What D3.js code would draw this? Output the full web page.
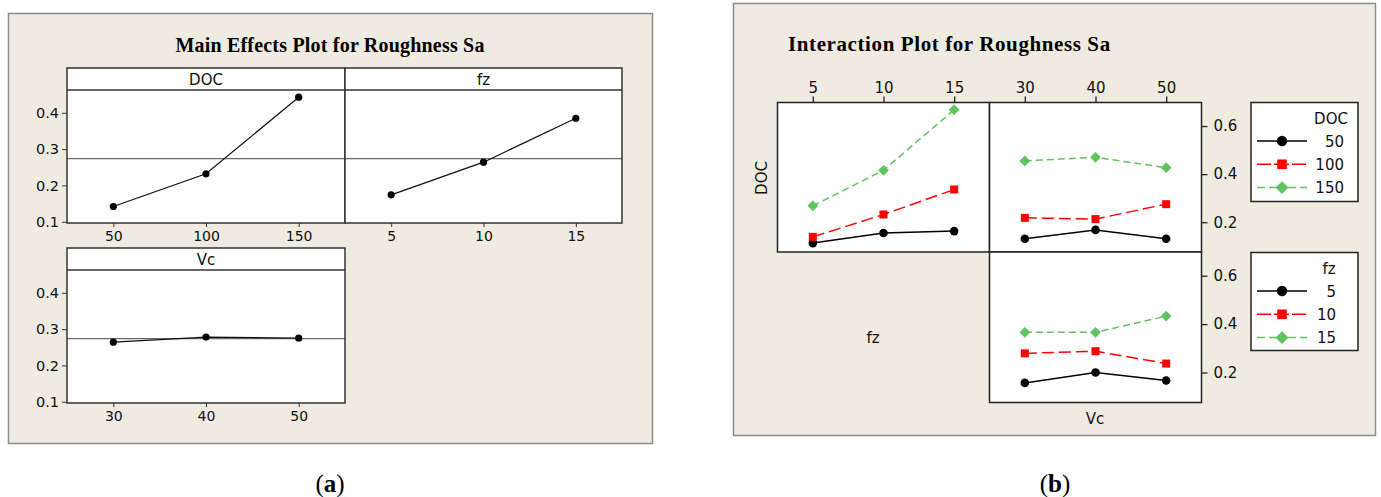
<!DOCTYPE html>
<html><head><meta charset="utf-8">
<script src="https://cdn.jsdelivr.net/npm/d3@7"></script>
<style>
body{margin:0;background:#fff;}
svg{display:block;}
text{font-family:"DejaVu Sans",Verdana,sans-serif;}
</style></head>
<body>
<svg id="c" width="1381" height="497"></svg>
<script>
// ---- data ----
const docLevels = [50, 100, 150];
const fzLevels = [5, 10, 15];
const vcLevels = [30, 40, 50];
const mainDOC = [0.142, 0.232, 0.443];
const mainFz = [0.174, 0.264, 0.385];
const mainVc = [0.264, 0.278, 0.275];
const grandMean = 0.274;
const mainYTicks = [0.1, 0.2, 0.3, 0.4];
const interYTicks = [0.2, 0.4, 0.6];
// interaction means: rows = level of legend factor, cols = x factor level
const docByFz = [[0.113, 0.155, 0.163], [0.139, 0.232, 0.336], [0.268, 0.416, 0.668]];
const docByVc = [[0.131, 0.168, 0.131], [0.218, 0.213, 0.275], [0.455, 0.470, 0.427]];
const fzByVc = [[0.157, 0.200, 0.167], [0.279, 0.288, 0.237], [0.366, 0.366, 0.433]];
const seriesColors = ["#000000", "#ff0000", "#5fc45f"];
const seriesDash = [null, "12,5", "7,4"];
const seriesShapes = ["circle", "square", "diamond"];

const svg = d3.select("#c");
const BG = "#efebe1";
const SERIF = "'Liberation Serif','Times New Roman',serif";

// ---------- (a) Main effects ----------
svg.append("rect").attr("x", 8.5).attr("y", 13.5).attr("width", 644).attr("height", 430)
  .attr("fill", BG).attr("stroke", "#8a8a8a").attr("stroke-width", 1.5);
svg.append("text").attr("x", 330).attr("y", 52).attr("text-anchor", "middle")
  .style("font-family", SERIF).style("font-weight", "bold")
  .style("font-size", "20px").style("letter-spacing", "0.2px").text("Main Effects Plot for Roughness Sa");

const mainY = d3.scaleLinear().domain([0.0965, 0.4628]);
function mainPanel(x0, x1, top, levels, values, xdom, name, showY) {
  const hdrB = top + 22, bot = top + 155;
  const x = d3.scaleLinear().domain(xdom).range([x0, x1]);
  const y = mainY.copy().range([bot, hdrB]);
  const g = svg.append("g");
  g.append("rect").attr("x", x0).attr("y", top).attr("width", x1 - x0).attr("height", bot - top)
    .attr("fill", "#fff");
  g.append("line").attr("x1", x0).attr("x2", x1).attr("y1", hdrB).attr("y2", hdrB)
    .attr("stroke", "#333").attr("stroke-width", 1.5);
  g.append("text").attr("x", (x0 + x1) / 2).attr("y", top + 17).attr("text-anchor", "middle")
    .style("font-size", "15px").attr("fill", "#111").text(name);
  // mean reference line
  g.append("line").attr("x1", x0).attr("x2", x1).attr("y1", y(grandMean)).attr("y2", y(grandMean))
    .attr("stroke", "#6a6a6a").attr("stroke-width", 1.2);
  const pts = levels.map((l, i) => [l, values[i]]);
  g.append("path").datum(pts).attr("fill", "none").attr("stroke", "#111").attr("stroke-width", 1.2)
    .attr("d", d3.line().x(d => x(d[0])).y(d => y(d[1])));
  g.selectAll("circle.p").data(pts).join("circle").attr("cx", d => x(d[0])).attr("cy", d => y(d[1]))
    .attr("r", 3.6).attr("fill", "#000");
  // x axis
  const xa = g.append("g").attr("transform", `translate(0,${bot})`)
    .call(d3.axisBottom(x).tickValues(levels).tickSize(4).tickPadding(4));
  xa.select(".domain").remove();
  xa.selectAll("line").attr("stroke", "#333");
  xa.selectAll("text").style("font-size", "14px").attr("fill", "#111")
    .style("font-family", "'DejaVu Sans',Verdana,sans-serif");
  if (showY) {
    const ya = g.append("g").attr("transform", `translate(${x0},0)`)
      .call(d3.axisLeft(y).tickValues(mainYTicks).tickFormat(d3.format(".1f")).tickSize(5).tickPadding(3));
    ya.select(".domain").remove();
    ya.selectAll("line").attr("stroke", "#333");
    ya.selectAll("text").style("font-size", "14.5px").attr("fill", "#111")
      .style("font-family", "'DejaVu Sans',Verdana,sans-serif");
  }
  g.append("rect").attr("x", x0).attr("y", top).attr("width", x1 - x0).attr("height", bot - top)
    .attr("fill", "none").attr("stroke", "#333").attr("stroke-width", 1.5);
}
mainPanel(67, 345, 68, docLevels, mainDOC, [25, 175], "DOC", true);
mainPanel(345, 622, 68, fzLevels, mainFz, [2.5, 17.5], "fz", false);
mainPanel(67, 345, 248, vcLevels, mainVc, [25, 55], "Vc", true);

svg.append("text").attr("x", 330).attr("y", 492).attr("text-anchor", "middle")
  .style("font-family", SERIF).style("font-size", "25px")
  .html("(<tspan font-weight='bold'>a</tspan>)");

// ---------- (b) Interaction ----------
svg.append("rect").attr("x", 733.5).attr("y", 3.5).attr("width", 642).attr("height", 432)
  .attr("fill", BG).attr("stroke", "#8a8a8a").attr("stroke-width", 1.5);
svg.append("text").attr("x", 788).attr("y", 51)
  .style("font-family", SERIF).style("font-weight", "bold")
  .style("font-size", "21px").style("letter-spacing", "0.6px").text("Interaction Plot for Roughness Sa");

const interY = d3.scaleLinear().domain([0.076, 0.698]);
function drawMarker(g, shape, cx, cy, color, k = 1) {
  if (shape === "circle") {
    g.append("circle").attr("cx", cx).attr("cy", cy).attr("r", 4.3 * k).attr("fill", color);
  } else if (shape === "square") {
    const h = 4 * k;
    g.append("rect").attr("x", cx - h).attr("y", cy - h).attr("width", 2 * h).attr("height", 2 * h).attr("fill", color);
  } else {
    const h = 3.8 * k;
    g.append("rect").attr("x", -h).attr("y", -h).attr("width", 2 * h).attr("height", 2 * h)
      .attr("transform", `translate(${cx},${cy}) rotate(45)`).attr("fill", color);
  }
}
function interPanel(x0, x1, top, bot, levels, xdom, matrix, topAxis, rightAxis) {
  const x = d3.scaleLinear().domain(xdom).range([x0, x1]);
  const y = interY.copy().range([bot, top]);
  const g = svg.append("g");
  g.append("rect").attr("x", x0).attr("y", top).attr("width", x1 - x0).attr("height", bot - top).attr("fill", "#fff");
  matrix.forEach((row, si) => {
    const pts = levels.map((l, i) => [l, row[i]]);
    g.append("path").datum(pts).attr("fill", "none").attr("stroke", seriesColors[si])
      .attr("stroke-width", 1.5).attr("stroke-dasharray", seriesDash[si])
      .attr("d", d3.line().x(d => x(d[0])).y(d => y(d[1])));
    pts.forEach(d => drawMarker(g, seriesShapes[si], x(d[0]), y(d[1]), seriesColors[si]));
  });
  if (topAxis) {
    const xa = g.append("g").attr("transform", `translate(0,${top})`)
      .call(d3.axisTop(x).tickValues(levels).tickSize(6).tickPadding(4));
    xa.select(".domain").remove();
    xa.selectAll("line").attr("stroke", "#222").attr("stroke-width", 1.3);
    xa.selectAll("text").style("font-size", "15px").attr("fill", "#111")
      .style("font-family", "'DejaVu Sans',Verdana,sans-serif");
  }
  if (rightAxis) {
    const ya = g.append("g").attr("transform", `translate(${x1},0)`)
      .call(d3.axisRight(y).tickValues(interYTicks).tickFormat(d3.format(".1f")).tickSize(6).tickPadding(6));
    ya.select(".domain").remove();
    ya.selectAll("line").attr("stroke", "#222").attr("stroke-width", 1.3);
    ya.selectAll("text").style("font-size", "15px").attr("fill", "#111")
      .style("font-family", "'DejaVu Sans',Verdana,sans-serif");
  }
  g.append("rect").attr("x", x0).attr("y", top).attr("width", x1 - x0).attr("height", bot - top)
    .attr("fill", "none").attr("stroke", "#222").attr("stroke-width", 1.5);
}
interPanel(777.5, 989.5, 102.5, 252, fzLevels, [2.5, 17.5], docByFz, true, false);
interPanel(989.5, 1201.5, 102.5, 252, vcLevels, [25, 55], docByVc, true, true);
interPanel(989.5, 1201.5, 252, 402.5, vcLevels, [25, 55], fzByVc, false, true);

// row/column labels
svg.append("text").attr("transform", "translate(767,178) rotate(-90)").attr("text-anchor", "middle")
  .style("font-size", "15px").attr("fill", "#111").text("DOC");
svg.append("text").attr("x", 873).attr("y", 343).attr("text-anchor", "middle")
  .style("font-size", "15px").attr("fill", "#111").text("fz");
svg.append("text").attr("x", 1095).attr("y", 424).attr("text-anchor", "middle")
  .style("font-size", "15px").attr("fill", "#111").text("Vc");

// legends
function legend(top, bottom, title, titleX, labels, labelX) {
  const g = svg.append("g");
  g.append("rect").attr("x", 1251).attr("y", top).attr("width", 107).attr("height", bottom - top)
    .attr("fill", "#fff").attr("stroke", "#222").attr("stroke-width", 1.5);
  g.append("text").attr("x", titleX).attr("y", top + 21).attr("text-anchor", "middle")
    .style("font-size", "15px").attr("fill", "#111").text(title);
  labels.forEach((lab, i) => {
    const yy = top + 38.5 + i * 23.3;
    g.append("line").attr("x1", 1257).attr("x2", 1307).attr("y1", yy).attr("y2", yy)
      .attr("stroke", seriesColors[i]).attr("stroke-width", 1.5)
      .attr("stroke-dasharray", i === 1 ? "14,3,10,3,2,3" : i === 2 ? "8,4,8,4,4,3" : null);
    drawMarker(g, seriesShapes[i], 1282, yy, seriesColors[i], 1.2);
    g.append("text").attr("x", labelX).attr("y", yy + 5.5).attr("text-anchor", "end")
      .style("font-size", "15px").attr("fill", "#111").text(lab);
  });
}
legend(102.5, 201.5, "DOC", 1331, docLevels, 1344);
legend(252.5, 350.5, "fz", 1329, fzLevels, 1336);

svg.append("text").attr("x", 1055).attr("y", 492).attr("text-anchor", "middle")
  .style("font-family", SERIF).style("font-size", "25px")
  .html("(<tspan font-weight='bold'>b</tspan>)");
</script>
</body></html>
